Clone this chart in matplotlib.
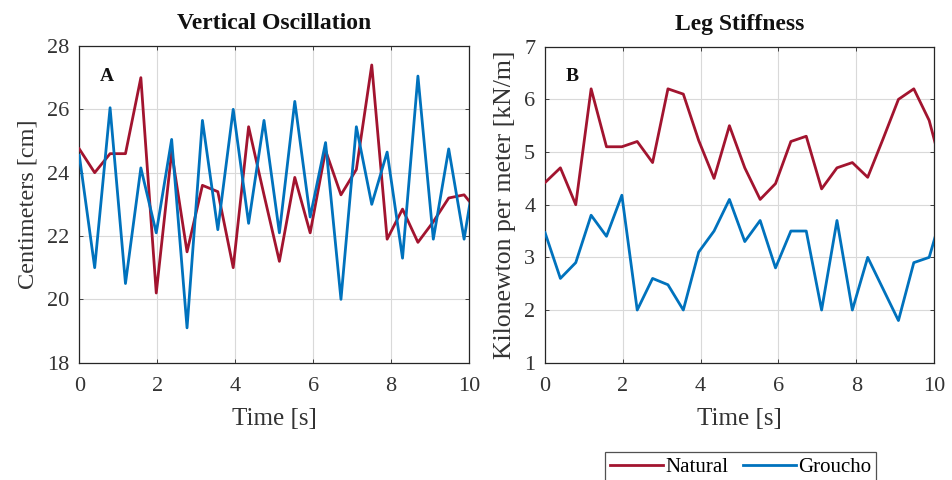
import matplotlib
matplotlib.use("Agg")
import matplotlib.pyplot as plt
from matplotlib.lines import Line2D

time = [0, 0.395, 0.79, 1.185, 1.58, 1.975, 2.37, 2.765, 3.16, 3.555, 3.95,
        4.345, 4.74, 5.135, 5.53, 5.925, 6.32, 6.715, 7.11, 7.505, 7.9,
        8.295, 8.69, 9.085, 9.48, 9.875, 10.27]

osc_natural = [24.75, 24.0, 24.6, 24.6, 27.0, 20.2, 24.65, 21.5, 23.6, 23.4, 21.0,
               25.45, 23.3, 21.2, 23.85, 22.1, 24.7, 23.3, 24.1, 27.4, 21.9,
               22.85, 21.8, 22.45, 23.2, 23.3, 22.7]
osc_groucho = [24.55, 21.0, 26.05, 20.5, 24.15, 22.1, 25.05, 19.1, 25.65, 22.2, 26.0,
               22.4, 25.65, 22.1, 26.25, 22.6, 24.95, 20.0, 25.45, 23.0, 24.65,
               21.3, 27.05, 21.9, 24.75, 21.9, 24.9]

stiff_natural = [4.42, 4.7, 4.0, 6.2, 5.1, 5.1, 5.2, 4.8, 6.2, 6.1, 5.22,
                 4.5, 5.5, 4.7, 4.1, 4.4, 5.2, 5.3, 4.3, 4.7, 4.8,
                 4.52, 5.25, 6.0, 6.2, 5.6, 4.5]
stiff_groucho = [3.47, 2.6, 2.9, 3.8, 3.4, 4.18, 2.0, 2.6, 2.48, 2.0, 3.1,
                 3.5, 4.1, 3.3, 3.7, 2.8, 3.5, 3.5, 2.0, 3.7, 2.0,
                 3.0, 2.4, 1.8, 2.9, 3.0, 4.0]

titles = ["Vertical Oscillation", "Leg Stiffness"]
ylabels = ["Centimeters [cm]", "Kilonewton per meter [kN/m]"]
panel_letters = ["A", "B"]
series_names = ["Natural", "Groucho"]

RED = "#A2142F"
BLUE = "#0072BD"
FONT = "Liberation Serif"
plt.rcParams["font.family"] = [FONT, "DejaVu Serif"]

fig = plt.figure(figsize=(9.53, 4.8), dpi=100)
ax1 = fig.add_axes([0.0832, 0.2444, 0.4089, 0.6598])
ax2 = fig.add_axes([0.5719, 0.2444, 0.4082, 0.6583])

configs = [
    (ax1, osc_natural, osc_groucho, (18, 28), [18, 20, 22, 24, 26, 28], 17.5, 6),
    (ax2, stiff_natural, stiff_groucho, (1, 7), [1, 2, 3, 4, 5, 6, 7], 18.5, 6),
]

for i, (ax, nat, gro, ylim, yticks, ylsize, ylpad) in enumerate(configs):
    ax.plot(time, nat, color=RED, lw=2.0, zorder=3)
    ax.plot(time, gro, color=BLUE, lw=2.0, zorder=3)
    ax.set_xlim(0, 10)
    ax.set_ylim(*ylim)
    ax.set_xticks([0, 2, 4, 6, 8, 10])
    ax.set_yticks(yticks)
    ax.grid(True, color="#d9d9d9", lw=0.8, zorder=0)
    ax.tick_params(direction="in", length=3, width=0.6, labelsize=16,
                   colors="#262626", labelcolor="#333333",
                   top=True, right=True)
    ax.tick_params(axis="x", pad=10)
    ax.tick_params(axis="y", pad=7)
    for s in ax.spines.values():
        s.set_color("#262626")
        s.set_linewidth(0.9)
    ax.set_title(titles[i], fontsize=17, fontweight="bold", pad=12, color="#111111")
    ax.set_xlabel("Time [s]", fontsize=18, color="#333333", labelpad=9)
    ax.set_ylabel(ylabels[i], fontsize=ylsize, color="#333333", labelpad=ylpad)
    ax.text(0.07, 0.905, panel_letters[i], transform=ax.transAxes, fontsize=14,
            fontweight="bold", ha="center", va="center", color="#111111")

handles = [Line2D([], [], color=RED, lw=2), Line2D([], [], color=BLUE, lw=2)]
leg = fig.legend(handles, series_names, loc="upper center",
                 bbox_to_anchor=(0.777, 0.058), ncol=2, frameon=True,
                 fontsize=15, handlelength=2.55, handletextpad=0.1,
                 columnspacing=0.7, borderpad=0.25, borderaxespad=0,
                 fancybox=False)
leg.get_frame().set_edgecolor("#262626")
leg.get_frame().set_linewidth(0.9)

fig.savefig("out.png", dpi=100)
